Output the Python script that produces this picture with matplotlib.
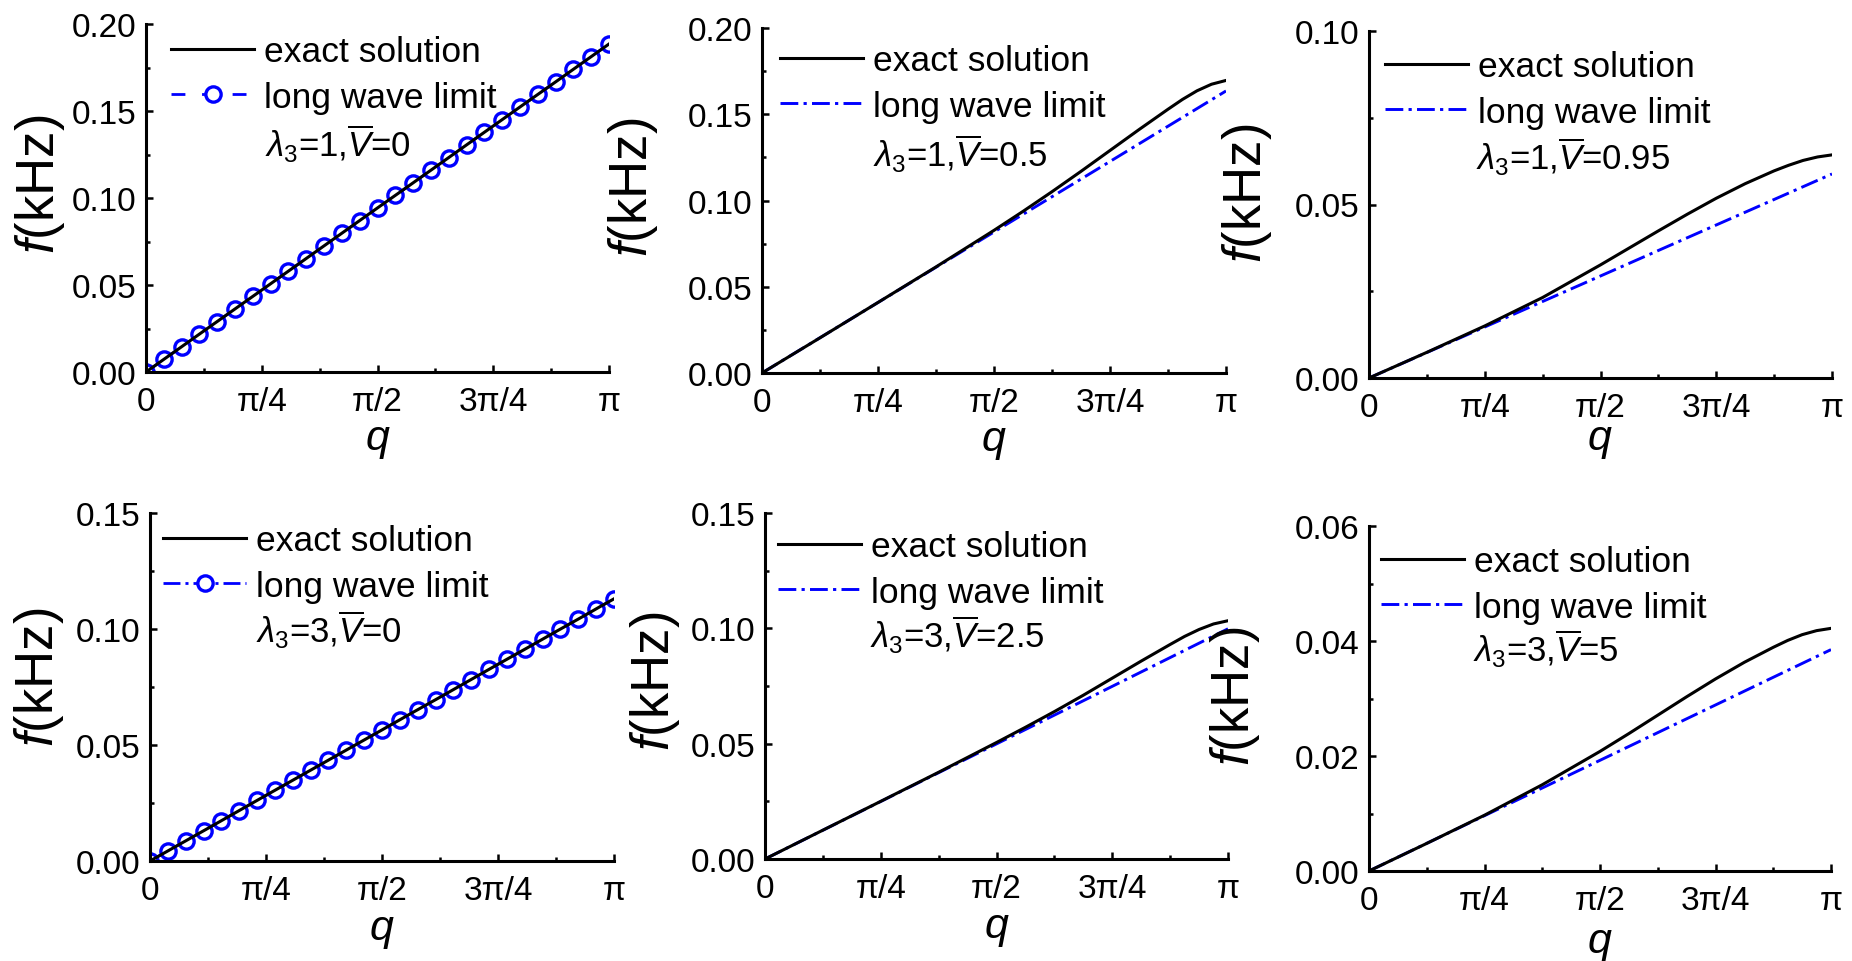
import numpy as np
import matplotlib
matplotlib.use("Agg")
import matplotlib.pyplot as plt
from matplotlib.ticker import FixedLocator, MultipleLocator, FormatStrFormatter

plt.rcParams['font.family'] = ['Liberation Sans', 'DejaVu Sans']
plt.rcParams['mathtext.fontset'] = 'custom'
plt.rcParams['mathtext.rm'] = 'Liberation Sans'
plt.rcParams['mathtext.it'] = 'Liberation Sans:italic'
plt.rcParams['mathtext.bf'] = 'Liberation Sans:bold'

# ---------------- data ----------------
q_marks = np.linspace(0, np.pi, 27)      # sample positions of the circle markers
q_exact = np.pi * np.array([0, 0.125, 0.25, 0.375, 0.5, 0.5625, 0.625, 0.6875, 0.75,
                            0.8125, 0.875, 0.90625, 0.9375, 0.96875, 1.0])
q_long = np.array([0.0, np.pi])          # end points of the straight long-wave lines

xtick_vals = [0, np.pi / 4, np.pi / 2, 3 * np.pi / 4, np.pi]
xtick_labels = ['0', 'π/4', 'π/2', '3π/4', 'π']

# panel 1: lambda3=1, V=0
p1_exact = [0, 0.0236, 0.0471, 0.0707, 0.0943, 0.1060, 0.1178, 0.1296, 0.1414,
            0.1532, 0.1649, 0.1708, 0.1767, 0.1826, 0.1885]
p1_long = [0, 0.0072, 0.0145, 0.0217, 0.0290, 0.0362, 0.0435, 0.0507, 0.0580,
           0.0652, 0.0725, 0.0797, 0.0870, 0.0942, 0.1015, 0.1087, 0.1160, 0.1232,
           0.1305, 0.1377, 0.1450, 0.1522, 0.1595, 0.1667, 0.1740, 0.1812, 0.1885]
# panel 2: lambda3=1, V=0.5
p2_exact = [0, 0.0204, 0.0409, 0.0615, 0.0827, 0.0937, 0.1051, 0.1169, 0.1290,
            0.1411, 0.1529, 0.1586, 0.1636, 0.1674, 0.1696]
p2_long = [0, 0.1635]
# panel 3: lambda3=1, V=0.95
p3_exact = [0, 0.0074, 0.0150, 0.0232, 0.0326, 0.0375, 0.0424, 0.0472, 0.0518,
            0.0560, 0.0597, 0.0613, 0.0627, 0.0637, 0.0643]
p3_long = [0, 0.0588]
# panel 4: lambda3=3, V=0
p4_exact = [0, 0.0141, 0.0283, 0.0424, 0.0565, 0.0636, 0.0706, 0.0777, 0.0848,
            0.0918, 0.0989, 0.1024, 0.1059, 0.1095, 0.1130]
p4_long = [0, 0.0043, 0.0087, 0.0130, 0.0174, 0.0217, 0.0261, 0.0304, 0.0348,
           0.0391, 0.0435, 0.0478, 0.0522, 0.0565, 0.0609, 0.0652, 0.0695, 0.0739,
           0.0782, 0.0826, 0.0869, 0.0913, 0.0956, 0.1000, 0.1043, 0.1087, 0.1130]
# panel 5: lambda3=3, V=2.5
p5_exact = [0, 0.0125, 0.0250, 0.0376, 0.0505, 0.0571, 0.0639, 0.0710, 0.0784,
            0.0858, 0.0930, 0.0965, 0.0995, 0.1019, 0.1033]
p5_long = [0, 0.0998]
# panel 6: lambda3=3, V=5
p6_exact = [0, 0.0048, 0.0097, 0.0150, 0.0208, 0.0239, 0.0271, 0.0303, 0.0334,
            0.0363, 0.0389, 0.0401, 0.0411, 0.0418, 0.0422]
p6_long = [0, 0.0385]

labels = ['exact solution', 'long wave limit']
annotations = [r'$\lambda_3$=1,$\overline{V}$=0', r'$\lambda_3$=1,$\overline{V}$=0.5',
               r'$\lambda_3$=1,$\overline{V}$=0.95', r'$\lambda_3$=3,$\overline{V}$=0',
               r'$\lambda_3$=3,$\overline{V}$=2.5', r'$\lambda_3$=3,$\overline{V}$=5']
ylims = [0.20, 0.20, 0.10, 0.15, 0.15, 0.06]
ymajor = [0.05, 0.05, 0.05, 0.05, 0.05, 0.02]

# ---------------- layout (pixels) ----------------
W, H = 1852, 962
fig = plt.figure(figsize=(W / 100, H / 100), dpi=100)

# left, right, top, bottom
boxes = [(146, 609, 25, 373), (762, 1226, 29, 374), (1369, 1832, 32, 379),
         (150, 614, 514, 862), (765, 1228, 514, 860), (1369, 1831, 527, 872)]
ylabel_pos = [(40, 184), (633, 187), (1247, 193), (39, 677), (655, 681), (1235, 696)]
xlabel_pos = [(378, 450), (994, 451), (1600, 450), (382, 940), (997, 938), (1600, 953)]
legend_pos = [(171, 36), (780, 45), (1385, 51), (163, 525), (778, 531), (1381, 546)]
annot_pos = [(265, 157), (873, 167), (1476, 170), (256, 643), (870, 648), (1473, 662)]

BLUE = '#0000FF'
DASHDOT = [6.1, 1.8, 1.1, 1.8]
DASHED = [5, 6]

exact_sets = [p1_exact, p2_exact, p3_exact, p4_exact, p5_exact, p6_exact]
long_sets = [p1_long, p2_long, p3_long, p4_long, p5_long, p6_long]

FS_TICK = 24
FS_LEG = 25.5
FS_ANN = 25


def fx(px):
    return px / W


def fy(py):
    return 1 - py / H


for i in range(6):
    l, r, t, b = boxes[i]
    ax = fig.add_axes([fx(l), fy(b), (r - l) / W, (b - t) / H])
    exact = exact_sets[i]
    longv = long_sets[i]
    if i in (0, 3):
        ls = DASHED if i == 0 else DASHDOT
        hl, = ax.plot(q_marks, longv, color=BLUE, lw=2, dashes=ls, marker='o',
                      ms=11, mfc='white', mec=BLUE, mew=2.4, zorder=2)
    else:
        hl, = ax.plot(q_long, longv, color=BLUE, lw=2.1, dashes=DASHDOT, zorder=2)
    he, = ax.plot(q_exact, exact, color='black', lw=2.2, zorder=3)

    ax.set_xlim(0, np.pi)
    ax.set_ylim(0, ylims[i])
    ax.xaxis.set_major_locator(FixedLocator(xtick_vals))
    ax.set_xticklabels(xtick_labels)
    ax.xaxis.set_minor_locator(FixedLocator([np.pi / 8, 3 * np.pi / 8, 5 * np.pi / 8, 7 * np.pi / 8]))
    ax.yaxis.set_major_locator(MultipleLocator(ymajor[i]))
    ax.yaxis.set_minor_locator(MultipleLocator(ymajor[i] / 2))
    ax.yaxis.set_major_formatter(FormatStrFormatter('%.2f'))
    for s in ('top', 'right'):
        ax.spines[s].set_visible(False)
    for s in ('left', 'bottom'):
        ax.spines[s].set_linewidth(2.2)
    ax.tick_params(which='both', direction='in', width=1.8, labelsize=FS_TICK)
    ax.tick_params(which='major', length=5)
    ax.tick_params(which='minor', length=3)
    ax.tick_params(axis='x', which='major', pad=10)
    ax.tick_params(axis='y', which='major', pad=7)

    lx, ly = legend_pos[i]
    ax.legend([he, hl], labels, loc='upper left', bbox_to_anchor=(fx(lx), fy(ly)),
              bbox_transform=fig.transFigure, frameon=False, fontsize=FS_LEG,
              borderpad=0, borderaxespad=0, handlelength=2.35, handletextpad=0.28,
              labelspacing=0.36, numpoints=1)

    axx, axy = annot_pos[i]
    fig.text(fx(axx), fy(axy), annotations[i], fontsize=FS_ANN, ha='left', va='baseline')

    yx, yy = ylabel_pos[i]
    fig.text(fx(yx), fy(yy), r'$f$(kHz)', fontsize=38, rotation=90, ha='center', va='center')
    xx, xy = xlabel_pos[i]
    fig.text(fx(xx), fy(xy), r'$q$', fontsize=31, ha='center', va='baseline')

fig.savefig('out.png', dpi=100)
